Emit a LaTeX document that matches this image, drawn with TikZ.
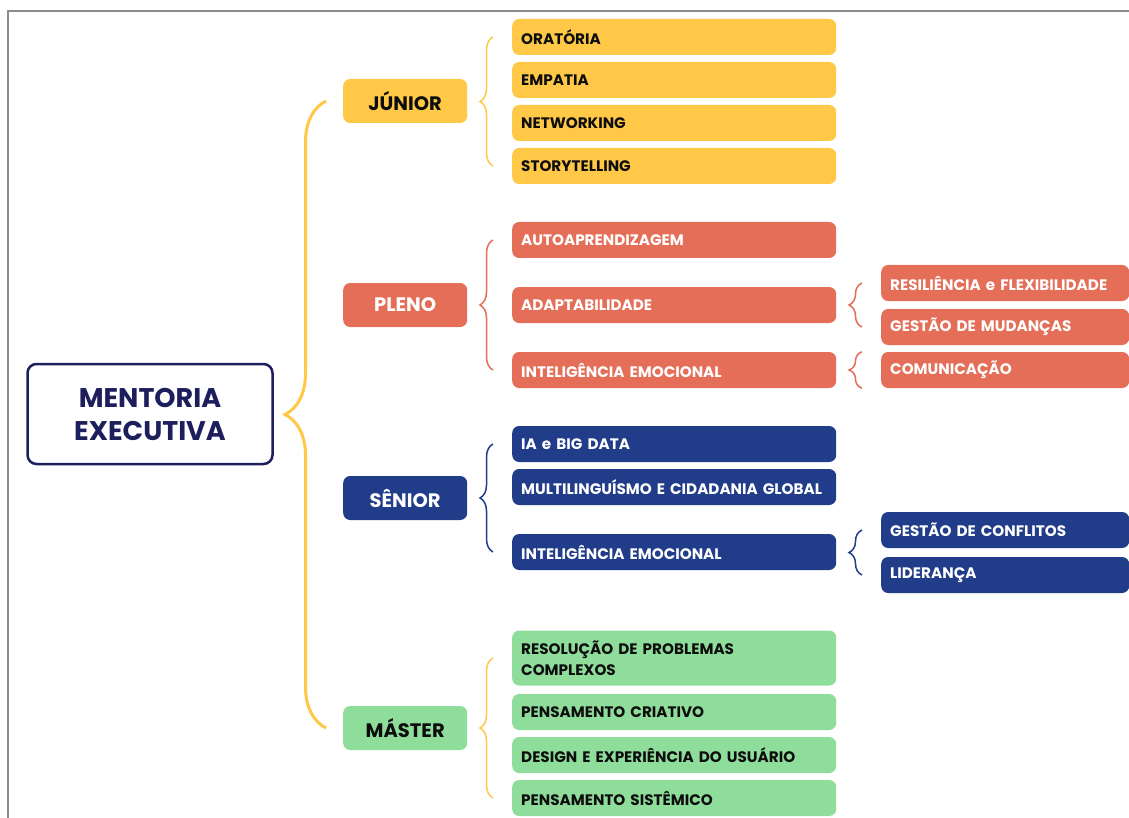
\documentclass[tikz,border=0pt]{standalone}
\usepackage{fontspec}
\setmainfont{Poppins}
\usetikzlibrary{calc,decorations.pathreplacing}
\definecolor{jrcol}{HTML}{FFC847}
\definecolor{plcol}{HTML}{E46E58}
\definecolor{srcol}{HTML}{213D89}
\definecolor{mscol}{HTML}{8EDD9B}
\definecolor{rootcol}{HTML}{1C1F5C}
\colorlet{framecol}{black!45}
\colorlet{txtcol}{black!95}
\tikzstyle{box}=[rounded corners=7pt,font=\fontsize{15.2}{21}\selectfont\bfseries]
\tikzstyle{level}=[box,anchor=west,minimum width=124pt,minimum height=44pt,font=\fontsize{19.5}{22}\selectfont\bfseries]
\tikzstyle{leaf}=[box,anchor=west,minimum height=36pt,text width=306pt,inner xsep=9pt,align=left]
\tikzstyle{subleaf}=[leaf,text width=230pt]
\tikzstyle{jr}=[fill=jrcol,text=txtcol]
\tikzstyle{pl}=[fill=plcol,text=white]
\tikzstyle{sr}=[fill=srcol,text=white]
\tikzstyle{ms}=[fill=mscol,text=txtcol]
\tikzstyle{bracket}=[decorate,decoration={brace,amplitude=13pt},line width=1.5pt]
\def\brace#1#2#3{\draw[bracket,#1] ($(#3.west)+(-19,0)$) -- ($(#2.west)+(-19,0)$)}

\begin{document}
\begin{tikzpicture}[x=1pt,y=-1pt]
  \useasboundingbox (0,0) rectangle (1129,818);
  \def\xl{343} % level column
  \def\xa{512} % leaf column
  \def\xb{881} % sub-leaf column

  % FRAME
  \draw[framecol,line width=2pt] (8,818) |- (1129,11);

  % ROOT
  \node[draw=rootcol,line width=2.5pt,rounded corners=9pt,minimum width=245pt,minimum height=100pt,
    align=center,text=rootcol,font=\fontsize{27}{33}\selectfont\bfseries] (root) at (150,414) {MENTORIA\\EXECUTIVA};

  % LEVELS
  \node[level,jr] (junior) at (\xl,101) {JÚNIOR};
  \node[level,pl] (pleno)  at (\xl,305) {PLENO};
  \node[level,sr] (senior) at (\xl,498) {SÊNIOR};
  \node[level,ms] (master) at (\xl,728) {MÁSTER};
  \draw[bracket,jrcol,line width=3pt,decoration={amplitude=41pt}]
    ($(master.west)+(-17,0)$) -- ($(junior.west)+(-17,0)$);

  % JUNIOR
  \node[leaf,jr] (orat)  at (\xa,37)  {ORATÓRIA};
  \node[leaf,jr] (empat) at (\xa,80)  {EMPATIA};
  \node[leaf,jr] (netw)  at (\xa,123) {NETWORKING};
  \node[leaf,jr] (story) at (\xa,166) {STORYTELLING};
  \brace{jrcol}{orat}{story};

  % PLENO
  \node[leaf,pl] (autoap) at (\xa,240) {AUTOAPRENDIZAGEM};
  \node[leaf,pl] (adapt)  at (\xa,305) {ADAPTABILIDADE};
  \node[leaf,pl] (intpl)  at (\xa,370) {INTELIGÊNCIA EMOCIONAL};
  \brace{plcol}{autoap}{intpl};
  \node[subleaf,pl] (resil)  at (\xb,283) {RESILIÊNCIA e FLEXIBILIDADE};
  \node[subleaf,pl] (gestm)  at (\xb,327) {GESTÃO DE MUDANÇAS};
  \node[subleaf,pl] (comun)  at (\xb,370) {COMUNICAÇÃO};
  \brace{plcol}{resil}{gestm};
  \draw[bracket,plcol] ($(comun.south west)+(-19,0)$) -- ($(comun.north west)+(-19,0)$);

  % SENIOR
  \node[leaf,sr] (iabig) at (\xa,444) {IA e BIG DATA};
  \node[leaf,sr] (multi) at (\xa,487) {MULTILINGUÍSMO E CIDADANIA GLOBAL};
  \node[leaf,sr] (intsr) at (\xa,552) {INTELIGÊNCIA EMOCIONAL};
  \brace{srcol}{iabig}{intsr};
  \node[subleaf,sr] (confl) at (\xb,530) {GESTÃO DE CONFLITOS};
  \node[subleaf,sr] (lider) at (\xb,575) {LIDERANÇA};
  \brace{srcol}{confl}{lider};

  % MASTER
  \node[leaf,ms,minimum height=55pt] (resol) at (\xa,658) {RESOLUÇÃO DE PROBLEMAS\\COMPLEXOS};
  \node[leaf,ms] (criat)  at (\xa,712) {PENSAMENTO CRIATIVO};
  \node[leaf,ms] (design) at (\xa,755) {DESIGN E EXPERIÊNCIA DO USUÁRIO};
  \node[leaf,ms] (sistm)  at (\xa,798) {PENSAMENTO SISTÊMICO};
  \brace{jrcol}{resol}{sistm};

\end{tikzpicture}
\end{document}
